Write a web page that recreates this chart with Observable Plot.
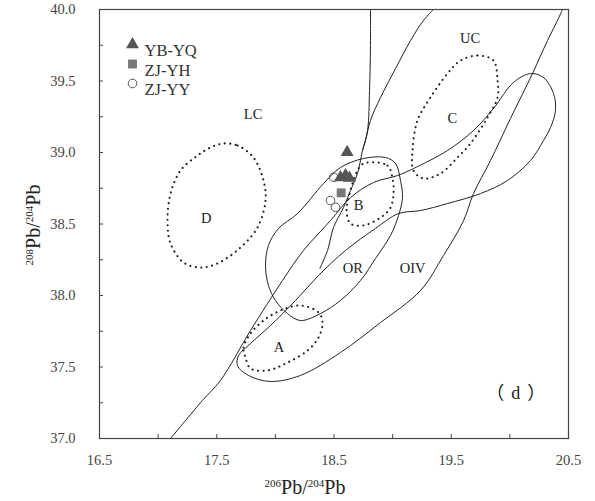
<!DOCTYPE html>
<html><head><meta charset="utf-8">
<script src="https://cdn.jsdelivr.net/npm/d3@7"></script>
<script src="https://cdn.jsdelivr.net/npm/@observablehq/plot@0.6"></script>
<style>body{margin:0;background:#fff}svg{display:block}</style>
</head><body><div id="chart"></div>
<script>
// ---------- tick values ----------
const xLabelTicks = [16.5, 17.5, 18.5, 19.5, 20.5];
const xMinorTicks = [17.0, 17.5, 18.0, 18.5, 19.0, 19.5, 20.0];
const yLabelTicks = [37.0, 37.5, 38.0, 38.5, 39.0, 39.5, 40.0];
const yMinorTicks = [37.25, 37.5, 37.75, 38.0, 38.25, 38.5, 38.75, 39.0, 39.25, 39.5, 39.75];

// ---------- sample data ----------
const seriesNames = ["YB-YQ", "ZJ-YH", "ZJ-YY"];
const ybyq = [[18.612, 39.002], [18.555, 38.825], [18.598, 38.840], [18.632, 38.822]];
const zjyh = [[18.561, 38.718]];
const zjyy = [[18.497, 38.827], [18.470, 38.664], [18.513, 38.617]];

// ---------- solid field boundaries ----------
const oivPath = [
  [17.106, 37.000], [17.378, 37.266], [17.532, 37.406], [17.788, 37.755], [18.061, 38.105],
  [18.240, 38.315], [18.470, 38.524], [18.641, 38.685], [18.837, 38.790], [19.042, 38.839],
  [19.178, 38.888], [19.468, 39.014], [19.690, 39.154], [19.860, 39.308], [20.031, 39.490],
  [20.176, 39.552], [20.287, 39.524], [20.372, 39.413], [20.389, 39.294], [20.347, 39.175],
  [20.287, 39.084], [20.176, 38.944], [19.980, 38.804], [19.750, 38.713], [19.468, 38.643],
  [19.238, 38.594], [19.050, 38.573], [18.854, 38.469], [18.598, 38.315], [18.368, 38.140],
  [18.172, 37.965], [17.958, 37.790], [17.788, 37.664], [17.686, 37.580], [17.677, 37.510],
  [17.771, 37.441], [17.958, 37.399], [18.214, 37.441], [18.555, 37.601], [18.897, 37.811],
  [19.238, 38.035], [19.434, 38.280], [19.605, 38.524], [19.690, 38.713], [19.835, 38.944],
  [20.005, 39.238], [20.193, 39.552], [20.321, 39.783], [20.406, 39.923], [20.449, 40.000]
];
const lcLine = [
  [18.811, 40.000], [18.811, 39.748], [18.803, 39.434], [18.786, 39.154], [18.743, 39.014],
  [18.700, 38.853], [18.641, 38.734], [18.581, 38.615], [18.496, 38.476], [18.445, 38.315],
  [18.380, 38.190]
];
const ucLine = [
  [19.349, 40.000], [19.263, 39.923], [19.153, 39.783], [19.025, 39.587], [18.897, 39.385],
  [18.811, 39.224], [18.769, 39.084], [18.743, 39.014]
];
const orField = [
  [18.939, 38.965], [19.025, 38.923], [19.067, 38.804], [19.084, 38.685], [19.050, 38.559],
  [18.982, 38.420], [18.854, 38.259], [18.726, 38.105], [18.555, 37.965], [18.385, 37.874],
  [18.214, 37.825], [18.103, 37.874], [18.001, 37.965], [17.941, 38.070], [17.916, 38.210],
  [17.941, 38.350], [18.027, 38.469], [18.189, 38.573], [18.411, 38.783], [18.555, 38.895],
  [18.752, 38.958]
];

// ---------- dotted fields ----------
const fieldA = [
  [17.745, 37.566], [17.728, 37.636], [17.788, 37.734], [17.899, 37.825], [18.044, 37.895],
  [18.214, 37.930], [18.368, 37.881], [18.402, 37.811], [18.368, 37.706], [18.274, 37.615],
  [18.103, 37.531], [17.933, 37.476], [17.788, 37.490]
];
const fieldB = [
  [18.752, 38.923], [18.956, 38.909], [18.999, 38.818], [19.008, 38.713], [18.982, 38.615],
  [18.897, 38.545], [18.752, 38.490], [18.641, 38.503], [18.607, 38.594], [18.641, 38.734],
  [18.692, 38.860]
];
const fieldC = [
  [19.579, 39.643], [19.724, 39.678], [19.860, 39.643], [19.895, 39.503], [19.895, 39.385],
  [19.809, 39.245], [19.664, 39.063], [19.553, 38.965], [19.408, 38.853], [19.263, 38.818],
  [19.178, 38.874], [19.170, 39.014], [19.212, 39.224], [19.323, 39.385], [19.468, 39.552]
];
const fieldD = [
  [17.558, 39.063], [17.677, 39.049], [17.813, 38.965], [17.899, 38.804], [17.916, 38.664],
  [17.848, 38.476], [17.703, 38.336], [17.506, 38.224], [17.361, 38.196], [17.216, 38.231],
  [17.106, 38.364], [17.080, 38.524], [17.106, 38.713], [17.191, 38.874], [17.336, 38.979],
  [17.447, 39.035]
];

// ---------- region labels ----------
const regionNames = ["LC", "UC", "C", "D", "B", "OR", "OIV", "A"];
const regionX = [17.81, 19.66, 19.51, 17.41, 18.71, 18.66, 19.17, 18.03];
const regionY = [39.27, 39.80, 39.24, 38.54, 38.63, 38.19, 38.19, 37.64];
const panelTag = ["（d）"];
const panelX = [20.05];
const panelY = [37.32];

// ---------- chart ----------
const serif = "'Liberation Serif', 'Times New Roman', serif";
const cjk = "'Noto Sans CJK TC', 'Noto Sans CJK SC', sans-serif";
const ink = "#222";
const solid = {x: d => d[0], y: d => d[1], stroke: ink, strokeWidth: 1, curve: "catmull-rom"};
const dotted = {x: d => d[0], y: d => d[1], stroke: ink, strokeWidth: 2.1, strokeDasharray: "0.1 5.4",
  strokeLinecap: "round", curve: "catmull-rom-closed"};

const legendMarks = [];
const legendSym = [
  {symbol: "triangle", fill: "#555", stroke: "none", r: 4.8},
  {symbol: "square", fill: "#777", stroke: "none", r: 5},
  {symbol: "circle", fill: "none", stroke: "#555", r: 4.3}
];
seriesNames.forEach((name, i) => {
  legendMarks.push(Plot.dot([name], {frameAnchor: "top-left", dx: 33, dy: 35 + i * 19.5, ...legendSym[i], strokeWidth: 1}));
  legendMarks.push(Plot.text([name], {frameAnchor: "top-left", dx: 45, dy: 35 + i * 19.5, text: d => d,
    textAnchor: "start", fontSize: 16.5, fill: "#333", fontFamily: serif}));
});

const chart = Plot.plot({
  width: 595, height: 501,
  marginLeft: 99, marginRight: 27, marginTop: 9, marginBottom: 63,
  x: {domain: [16.5, 20.5]},
  y: {domain: [37, 40]},
  style: {fontFamily: serif, background: "#fff", color: "#333"},
  marks: [
    Plot.line(oivPath, solid),
    Plot.line(lcLine, solid),
    Plot.line(ucLine, solid),
    Plot.line(orField, {...solid, curve: "catmull-rom-closed"}),
    Plot.line(fieldA, dotted),
    Plot.line(fieldB, dotted),
    Plot.line(fieldC, dotted),
    Plot.line(fieldD, dotted),
    Plot.text(regionNames, {x: (d, i) => regionX[i], y: (d, i) => regionY[i], text: d => d, fontSize: 14.5,
      fill: ink, fontFamily: serif}),
    Plot.text(panelTag, {x: (d, i) => panelX[i], y: (d, i) => panelY[i], text: d => d, fontSize: 18, fill: ink,
      fontFamily: serif}),
    Plot.dot(zjyy, {x: d => d[0], y: d => d[1], symbol: "circle", r: 4.3, stroke: "#555", fill: "none", strokeWidth: 1}),
    Plot.dot(zjyh, {x: d => d[0], y: d => d[1], symbol: "square", r: 5, fill: "#777", stroke: "none"}),
    Plot.dot(ybyq, {x: d => d[0], y: d => d[1], symbol: "triangle", r: 4.8, fill: "#555", stroke: "none"}),
    ...legendMarks,
    Plot.frame({stroke: "#444", strokeWidth: 1.2}),
    Plot.axisX(xMinorTicks, {anchor: "bottom", tickSize: -4, tickFormat: () => "", label: null, stroke: "#444"}),
    Plot.axisY(yMinorTicks, {anchor: "left", tickSize: -4, tickFormat: () => "", label: null, stroke: "#444"}),
    Plot.axisX(xLabelTicks, {anchor: "bottom", tickSize: 0, tickPadding: 16, tickFormat: d3.format(".1f"),
      label: null, fontSize: 14.5, fill: "#444", fontFamily: serif}),
    Plot.axisY(yLabelTicks, {anchor: "left", tickSize: 0, tickPadding: 24, tickFormat: d3.format(".1f"),
      label: null, fontSize: 14.5, fill: "#444", fontFamily: serif})
  ]
});
document.getElementById("chart").appendChild(chart);

const svg = d3.select(chart);
svg.selectAll('g[aria-label$="tick label"]').attr("font-family", serif).style("font-family", serif)
  .attr("font-variant", null).style("font-variant", "normal");

// panel tag: full-width brackets with their wide spacing, the letter in serif
svg.selectAll("text").filter(function () { return this.textContent === panelTag[0]; }).each(function () {
  const t = d3.select(this);
  const s = panelTag[0];
  t.text(null);
  t.append("tspan").attr("font-family", cjk).text(s[0]);
  t.append("tspan").attr("font-family", serif).attr("dx", 7).text(s.slice(1, -1));
  t.append("tspan").attr("font-family", cjk).attr("dx", 7).text(s[s.length - 1]);
});

// axis titles with superscripts
function title(sel, a, b) {
  const t = sel.append("text").attr("font-family", serif).attr("fill", "#222").attr("text-anchor", "middle");
  t.append("tspan").attr("font-size", 11).attr("dy", -7).text(a);
  t.append("tspan").attr("font-size", 20).attr("dy", 7).text("Pb/");
  t.append("tspan").attr("font-size", 11).attr("dy", -7).text(b);
  t.append("tspan").attr("font-size", 20).attr("dy", 7).text("Pb");
  return t;
}
title(svg, "206", "204").attr("x", 305).attr("y", 494);
title(svg, "208", "204").attr("transform", "translate(40,225) rotate(-90)");
</script>
</body></html>
